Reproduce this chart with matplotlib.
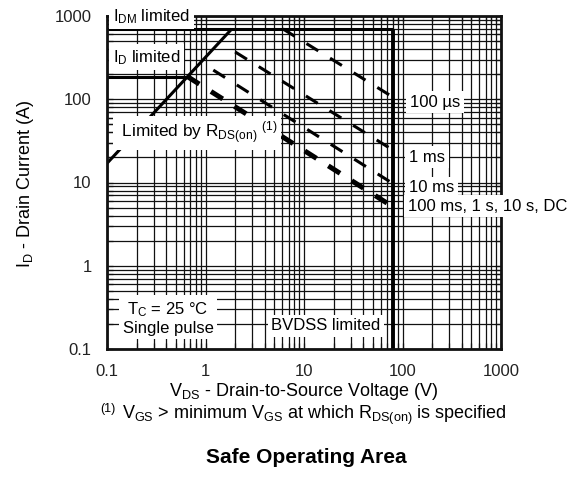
import numpy as np
import matplotlib
matplotlib.use("Agg")
import matplotlib.pyplot as plt
from matplotlib.ticker import FixedLocator, LogLocator, FixedFormatter, NullFormatter

plt.rcParams["font.family"] = ["Liberation Sans", "DejaVu Sans"]
plt.rcParams["mathtext.fontset"] = "custom"
plt.rcParams["mathtext.rm"] = "Liberation Sans"
plt.rcParams["mathtext.it"] = "Liberation Sans:italic"
plt.rcParams["mathtext.bf"] = "Liberation Sans:bold"
plt.rcParams["mathtext.default"] = "regular"
plt.rcParams["lines.scale_dashes"] = False

# Axis decades
x_ticks = [0.1, 1, 10, 100, 1000]
y_ticks = [0.1, 1, 10, 100, 1000]
x_tick_labels = ["0.1", "1", "10", "100", "1000"]
y_tick_labels = ["0.1", "1", "10", "100", "1000"]

# Boundary limits
idm_limit = 700.0     # A, pulsed drain current
id_limit = 187.0      # A, continuous drain current
bvdss = 80.0          # V, breakdown voltage
rds_v = [0.1, 1.85]   # V, R_DS(on) limit line
rds_i = [17.0, 700.0] # A

# Pulse-width limited lines (start at the upper boundary, end at BVDSS)
pulse_labels = ["100 µs", "1 ms", "10 ms", "100 ms, 1 s, 10 s, DC"]
pulse_v = [[6.1, 80.0], [2.0, 80.0], [1.2, 80.0], [0.657, 80.0]]
pulse_i = [[700.0, 106.0], [370.0, 24.5], [224.0, 9.7], [187.0, 5.1]]
pulse_lw = [2.2, 2.2, 2.2, 3.6]

W, H = 574, 478
fig = plt.figure(figsize=(W / 100, H / 100), dpi=100)
ax = fig.add_axes([107 / W, 1 - 349 / H, 394 / W, 333 / H])
ax.set_xscale("log")
ax.set_yscale("log")
ax.set_xlim(x_ticks[0], x_ticks[-1])
ax.set_ylim(y_ticks[0], y_ticks[-1])

ax.xaxis.set_major_locator(FixedLocator(x_ticks))
ax.xaxis.set_major_formatter(FixedFormatter(x_tick_labels))
ax.yaxis.set_major_locator(FixedLocator(y_ticks))
ax.yaxis.set_major_formatter(FixedFormatter(y_tick_labels))
for axis in (ax.xaxis, ax.yaxis):
    axis.set_minor_locator(LogLocator(base=10, subs=np.arange(2, 10), numticks=20))
    axis.set_minor_formatter(NullFormatter())

ax.grid(which="both", color="#111111", lw=0.9)
ax.tick_params(which="both", direction="in", top=True, right=True,
               length=4.5, width=0.9, color="#111111")
ax.tick_params(which="major", labelsize=12, pad=11, labelcolor="#222222")
for s in ax.spines.values():
    s.set_linewidth(2.0)
    s.set_color("#111111")

k = "#000000"
# I_DM and BVDSS limits
ax.plot([x_ticks[0], bvdss], [idm_limit, idm_limit], color=k, lw=2.2, solid_capstyle="butt")
ax.plot([bvdss, bvdss], [idm_limit, y_ticks[0]], color=k, lw=2.8, solid_capstyle="butt")
# R_DS(on) line and its crossing with I_D
ax.plot(rds_v, rds_i, color=k, lw=2.2, solid_capstyle="butt")
slope = np.log10(rds_i[1] / rds_i[0]) / np.log10(rds_v[1] / rds_v[0])
v_cross = rds_v[0] * 10 ** (np.log10(id_limit / rds_i[0]) / slope)
ax.plot([x_ticks[0], v_cross], [id_limit, id_limit], color=k, lw=2.2, solid_capstyle="butt")

for v, i, lw in zip(pulse_v, pulse_i, pulse_lw):
    ax.plot(v, i, color=k, lw=lw, dashes=(10, 10), dash_capstyle="butt")


def px(x, y):
    return x / W, 1 - y / H


box = dict(boxstyle="square,pad=0.22", fc="white", ec="none")
fs = 12
fig.text(*px(113, 21), "I$_{DM}$ limited", fontsize=fs, ha="left", va="baseline", bbox=box)
fig.text(*px(113, 62), "I$_{D}$ limited", fontsize=fs, ha="left", va="baseline", bbox=box)
fig.text(*px(117, 138), " Limited by R$_{DS(on)}$ $^{(1)}$", fontsize=12.4, ha="left",
         va="baseline", bbox=box)
fig.text(*px(410, 102), pulse_labels[0], fontsize=fs, ha="left", va="center", bbox=box)
fig.text(*px(409, 157), pulse_labels[1], fontsize=fs, ha="left", va="center", bbox=box)
fig.text(*px(409, 188), pulse_labels[2], fontsize=fs, ha="left", va="center", bbox=box)
fig.text(*px(408, 206), pulse_labels[3], fontsize=fs, ha="left", va="center", bbox=box)
fig.text(*px(168, 318), "T$_C$ = 25 °C\nSingle pulse", fontsize=fs, ha="center",
         va="center", linespacing=1.15, bbox=box)
fig.text(*px(326, 326), "BVDSS limited", fontsize=fs, ha="center", va="center", bbox=box)

fig.text(*px(30, 184), "I$_D$ - Drain Current (A)", fontsize=13, rotation=90,
         ha="center", va="baseline", rotation_mode="anchor")
fig.text(*px(304, 396), "V$_{DS}$ - Drain-to-Source Voltage (V)", fontsize=13,
         ha="center", va="baseline")
# footnote: marker raised separately, then the note itself
fig.text(*px(100, 412), "(1)", fontsize=9, ha="left", va="baseline")
fig.text(*px(122, 419), "V$_{GS}$ > minimum V$_{GS}$ at which R$_{DS(on)}$ is specified",
         fontsize=13, ha="left", va="baseline")
fig.text(*px(306, 463), "Safe Operating Area", fontsize=15, fontweight="bold",
         ha="center", va="baseline")

fig.savefig("out.png", dpi=100)
